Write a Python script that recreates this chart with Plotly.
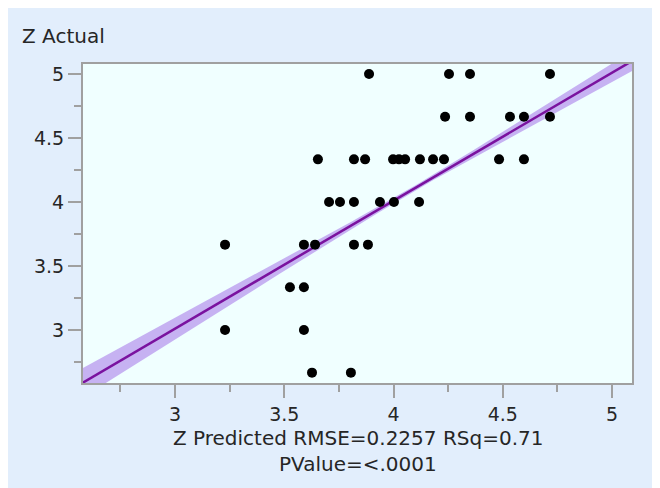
import numpy as np
import plotly.graph_objects as go

# ---- data ----
z_predicted = [
    3.888, 4.254, 4.350, 4.716,                      # actual 5
    4.236, 4.350, 4.533, 4.597, 4.716,               # actual 4.667
    3.654, 3.819, 3.870, 3.998, 4.025, 4.053, 4.121, 4.181, 4.231, 4.483, 4.597,  # 4.333
    3.705, 3.755, 3.819, 3.938, 4.002, 4.117,        # actual 4
    3.229, 3.590, 3.641, 3.819, 3.883,               # actual 3.667
    3.526, 3.590,                                    # actual 3.333
    3.229, 3.590,                                    # actual 3
    3.627, 3.805,                                    # actual 2.667
]
z_actual = (
    [5.0] * 4 + [4.6667] * 5 + [4.3333] * 11 + [4.0] * 6 +
    [3.6667] * 5 + [3.3333] * 2 + [3.0] * 2 + [2.6667] * 2
)

x_ticks = [3, 3.5, 4, 4.5, 5]
y_ticks = [3, 3.5, 4, 4.5, 5]
y_title = "Z Actual"
x_title_1 = "Z Predicted RMSE=0.2257 RSq=0.71"
x_title_2 = "PValue=&lt;.0001"

# fit line (actual by predicted) and its confidence shading
fit_slope = 1.0
fit_intercept = 0.01
band_min = 0.02
band_slope = 0.075

x_range = [2.5744, 5.096]
y_range = [2.578, 5.086]

# ---- figure (page body adds an 8px offset) ----
W, H = 660, 488
ml, mr, mt, mb = 74, 35, 55, 112
pw, ph = W - ml - mr, H - mt - mb

center = float(np.mean(z_actual))
fx = np.linspace(x_range[0] - 0.05, x_range[1] + 0.05, 200)
fy = fit_intercept + fit_slope * fx
half = np.sqrt(band_min ** 2 + (band_slope * (fx - center)) ** 2)

font_family = "DejaVu Sans, Verdana, sans-serif"
title_size = 20
tick_size = 19
text_color = "#262626"
axis_gray = "#A0A0A0"

fig = go.Figure()
fig.add_trace(go.Scatter(
    x=np.concatenate([fx, fx[::-1]]),
    y=np.concatenate([fy + half, (fy - half)[::-1]]),
    fill="toself", fillcolor="rgba(190,165,240,0.85)",
    line=dict(width=0), mode="lines", hoverinfo="skip", showlegend=False,
))
fig.add_trace(go.Scatter(
    x=fx, y=fy, mode="lines",
    line=dict(color="#7A129F", width=2.5), showlegend=False,
))
fig.add_trace(go.Scatter(
    x=z_predicted, y=z_actual, mode="markers",
    marker=dict(color="black", size=10, line=dict(width=0)),
    showlegend=False,
))

def px_x(p):
    return (p - ml) / pw

def px_y(p):
    return (H - mb - p) / ph

shapes = [
    dict(type="rect", xref="paper", yref="paper",
         x0=0, x1=1, y0=0, y1=1,
         line=dict(color=axis_gray, width=2), layer="above"),
]

annotations = [
    dict(text=y_title, xref="paper", yref="paper", x=px_x(12), y=px_y(28),
         xanchor="left", yanchor="middle", showarrow=False,
         font=dict(size=title_size, color=text_color, family=font_family)),
    dict(text=x_title_1, xref="paper", yref="paper", x=0.5, y=px_y(430),
         xanchor="center", yanchor="middle", showarrow=False,
         font=dict(size=title_size, color=text_color, family=font_family)),
    dict(text=x_title_2, xref="paper", yref="paper", x=0.5, y=px_y(456),
         xanchor="center", yanchor="middle", showarrow=False,
         font=dict(size=title_size, color=text_color, family=font_family)),
]

axis_common = dict(
    showgrid=False, zeroline=False, showline=False,
    ticks="outside", ticklen=13, tickwidth=1.5, tickcolor=axis_gray,
    tickfont=dict(size=tick_size, color=text_color, family=font_family),
    minor=dict(ticks="outside", ticklen=7, tickwidth=1.5, tickcolor=axis_gray, dtick=0.25),
)

fig.update_layout(
    width=W, height=H,
    margin=dict(l=ml, r=mr, t=mt, b=mb, pad=0),
    paper_bgcolor="#E2EEFC", plot_bgcolor="#F0FFFF",
    shapes=shapes, annotations=annotations,
    xaxis=dict(range=x_range, tickvals=x_ticks, ticktext=[str(v) for v in x_ticks],
               **axis_common),
    yaxis=dict(range=y_range, tickvals=y_ticks, ticktext=[str(v) for v in y_ticks],
               **axis_common),
)

fig.write_html("out.html")
